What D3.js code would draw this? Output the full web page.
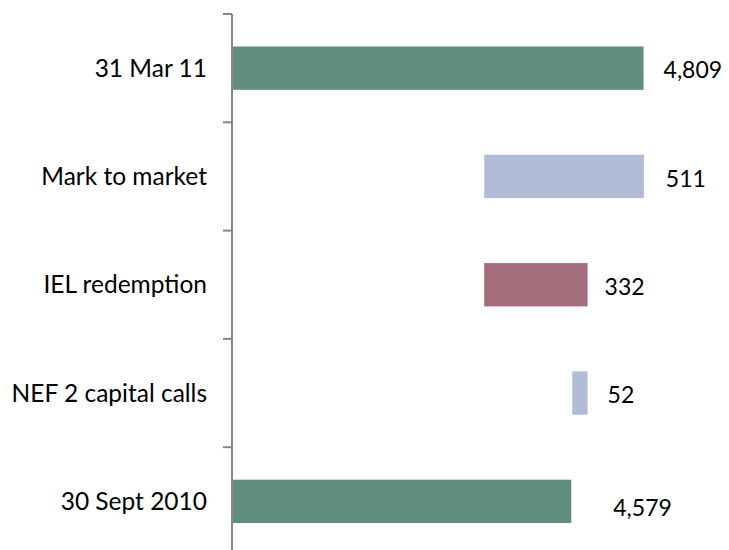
<!DOCTYPE html>
<html><head><meta charset="utf-8">
<script src="https://cdn.jsdelivr.net/npm/d3@7"></script>
<style>
html,body{margin:0;padding:0;background:#fff;}
svg{display:block;font-family:Lato,"Open Sans",sans-serif;}
</style></head>
<body><svg id="chart" width="729" height="550"></svg>
<script>
const categories = ["31 Mar 11","Mark to market","IEL redemption","NEF 2 capital calls","30 Sept 2010"];
const bases = [0, 4299, 4299, 4579, 0];
const values = [4809, 511, 332, 52, 4579];
const kinds = ["total","increase","decrease","increase","total"];
const valueLabels = ["4,809","511","332","52","4,579"];
const xDomain = [3500, 5000];

const colors = {total:"#5F8E7C", increase:"#B0BCD6", decrease:"#A36D7C"};
const labelOffsets = [[20,2],[22,2],[17,2],[20,2],[42,7]];

const svg = d3.select("#chart");
const axisX = 232, plotTop = 14, plotBottom = 555.5;
const x = d3.scaleLinear().domain(xDomain).range([axisX, axisX + 1500*0.3144]);
const y = d3.scaleBand().domain(categories).range([plotTop, plotBottom]).paddingInner(0.6).paddingOuter(0.3);

const rows = categories.map((c,i)=>({c, base:bases[i], v:values[i], kind:kinds[i], label:valueLabels[i], off:labelOffsets[i]}));

svg.selectAll("rect.bar").data(rows).enter().append("rect")
  .attr("class","bar")
  .attr("x", d=>x(Math.max(d.base, xDomain[0]))+1)
  .attr("y", d=>y(d.c))
  .attr("width", d=>x(d.base+d.v)-x(Math.max(d.base, xDomain[0]))-1)
  .attr("height", y.bandwidth())
  .attr("fill", d=>colors[d.kind]);

// axis
const step = y.step();
const tickYs = d3.range(categories.length+1).map(i=>plotTop + i*step);
svg.append("line").attr("x1",axisX).attr("x2",axisX).attr("y1",plotTop).attr("y2",plotBottom)
  .attr("stroke","#868686").attr("stroke-width",2);
svg.selectAll("line.tick").data(tickYs).enter().append("line")
  .attr("class","tick").attr("x1",axisX-9).attr("x2",axisX).attr("y1",d=>d).attr("y2",d=>d)
  .attr("stroke","#868686").attr("stroke-width",2);

svg.selectAll("text.cat").data(rows).enter().append("text")
  .attr("class","cat")
  .attr("x", axisX-25)
  .attr("y", d=>y(d.c)+y.bandwidth()/2)
  .attr("dy","0.35em")
  .attr("text-anchor","end")
  .attr("font-size",24.5)
  .attr("fill","#000")
  .text(d=>d.c);

svg.selectAll("text.val").data(rows).enter().append("text")
  .attr("class","val")
  .attr("x", d=>x(d.base+d.v)+d.off[0])
  .attr("y", d=>y(d.c)+y.bandwidth()/2+d.off[1])
  .attr("dy","0.35em")
  .attr("font-size",23)
  .attr("fill","#000")
  .text(d=>d.label);
</script></body></html>
